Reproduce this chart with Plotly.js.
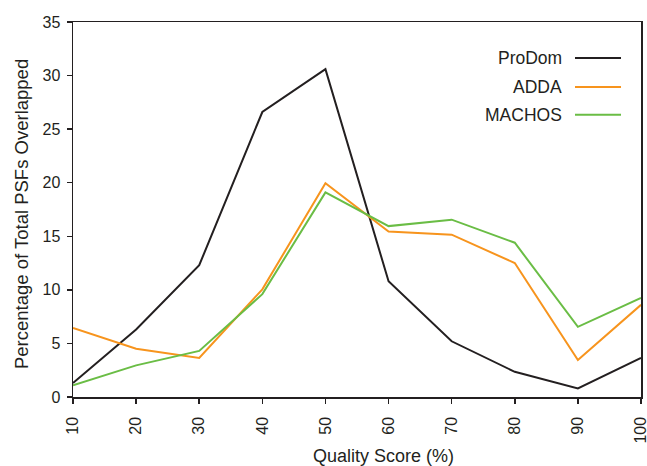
<!DOCTYPE html>
<html>
<head>
<meta charset="utf-8">
<script src="https://cdn.plot.ly/plotly-3.0.1.min.js"></script>
<style>html,body{margin:0;padding:0;background:#fff;}#chart{width:647px;height:466px;}</style>
</head>
<body>
<div id="chart"></div>
<script>
const quality = [10, 20, 30, 40, 50, 60, 70, 80, 90, 100];
const prodom = [1.3, 6.3, 12.3, 26.6, 30.6, 10.8, 5.2, 2.35, 0.8, 3.65];
const adda = [6.45, 4.5, 3.65, 10.05, 19.95, 15.45, 15.15, 12.5, 3.45, 8.6];
const machos = [1.1, 2.95, 4.3, 9.6, 19.1, 15.95, 16.55, 14.4, 6.55, 9.25];
const seriesNames = ["ProDom", "ADDA", "MACHOS"];
const colors = ["#231f20", "#f7941d", "#6abd45"];

const FONT = "Liberation Sans, Arial, Helvetica, sans-serif";
const traces = [prodom, adda, machos].map((ys, i) => ({
  x: quality, y: ys, type: "scatter", mode: "lines", name: seriesNames[i],
  line: {color: colors[i], width: 2}, showlegend: false
}));

const legY = [0.904, 0.827, 0.753];
const annotations = seriesNames.map((n, i) => ({
  xref: "paper", yref: "paper", x: 0.8644, y: legY[i], xanchor: "right", yanchor: "middle",
  text: n, showarrow: false, font: {family: FONT, size: 17.5, color: "#231f20"}
}));
annotations.push({
  xref: "paper", yref: "paper", x: 0.5458, y: -0.158, xanchor: "center", yanchor: "middle",
  text: "Quality Score (%)", showarrow: false, font: {family: FONT, size: 18, color: "#231f20"}
});
annotations.push({
  xref: "paper", yref: "paper", x: -0.0915, y: 0.488, xanchor: "center", yanchor: "middle",
  textangle: -90,
  text: "Percentage of Total PSFs Overlapped", showarrow: false, font: {family: FONT, size: 18.5, color: "#231f20"}
});
const shapes = seriesNames.map((n, i) => ({
  type: "line", xref: "paper", yref: "paper", x0: 0.8838, x1: 0.9648, y0: legY[i], y1: legY[i],
  line: {color: colors[i], width: 2}
}));

const layout = {
  width: 647, height: 466,
  margin: {l: 73, r: 6, t: 22, b: 69},
  paper_bgcolor: "#fff", plot_bgcolor: "#fff",
  font: {family: FONT, color: "#231f20"},
  xaxis: {
    range: [10, 100], tickvals: quality, ticktext: quality.map(String), tickangle: -90,
    ticks: "outside", ticklen: 5, tickwidth: 1.5, tickcolor: "#231f20",
    ticklabelstandoff: 7, ticklabeloverflow: "allow",
    showline: true, linecolor: "#231f20", linewidth: 1.5, mirror: true,
    showgrid: false, zeroline: false,
    tickfont: {family: FONT, size: 16, color: "#231f20"}
  },
  yaxis: {
    range: [0, 35], dtick: 5, tick0: 0,
    ticks: "outside", ticklen: 5, tickwidth: 1.5, tickcolor: "#231f20",
    ticklabelstandoff: 3,
    showline: true, linecolor: "#231f20", linewidth: 1.5, mirror: true,
    showgrid: false, zeroline: false,
    tickfont: {family: FONT, size: 16, color: "#231f20"}
  },
  annotations: annotations,
  shapes: shapes
};

Plotly.newPlot("chart", traces, layout, {displayModeBar: false, staticPlot: true});
</script>
</body>
</html>
